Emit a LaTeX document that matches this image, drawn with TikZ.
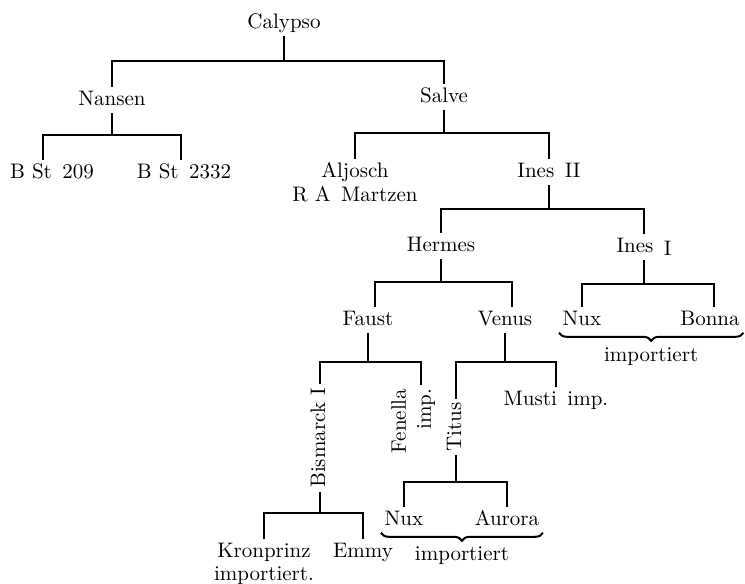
\documentclass[tikz,border=0pt]{standalone}
\usepackage{tikz}
\usetikzlibrary{positioning, decorations.pathreplacing}

\begin{document}
\begin{tikzpicture}[x=0.5pt, y=-0.5pt, line width=0.8pt,
    every node/.style={font=\fontsize{10.5}{12.5}\selectfont, inner sep=1.5pt},
    horse/.style={text height=7pt, text depth=2pt},
    upright/.style={horse, rotate=90},
    importbrace/.style={decorate, decoration={brace, mirror, amplitude=4pt}, line width=1pt}]
  \useasboundingbox (0,0) rectangle (745,584);

  % TOP: Calypso
  \node[horse] (calypso) at (284,23) {Calypso};
  \node[horse] (nansen) at (112,100) {Nansen};
  \node[horse] (salve) at (444,97) {Salve};
  \coordinate (calypsobar) at (284,61);
  \draw (calypso.south) -- (calypsobar);
  \draw (nansen.north) |- (calypsobar) -| (salve.north);

  % LEFT: Nansen
  \node[horse] (bst209) at (52,173) {B St\enspace 209};
  \node[horse] (bst2332) at (184,173) {B St\enspace 2332};
  \coordinate (nansenbar) at (112,135);
  \draw (nansen.south) -- (nansenbar);
  \draw ([xshift=-4.5pt]bst209.north) |- (nansenbar) -| ([xshift=-1.5pt]bst2332.north);

  % RIGHT: Salve
  \node[horse] (aljosch) at (355,172) {Aljosch};
  \node[horse, below=-0.5pt of aljosch] (martzen) {R A\enspace Martzen};
  \node[horse] (ines2) at (549,172) {Ines\enspace II};
  \coordinate (salvebar) at (444,133);
  \draw (salve.south) -- (salvebar);
  \draw (aljosch.north) |- (salvebar) -| (ines2.north);

  % Ines II
  \node[horse] (hermes) at (441,246) {Hermes};
  \node[horse] (ines1) at (644,247) {Ines\enspace\raisebox{-1.5pt}{I}};
  \coordinate (ines2bar) at (549,209);
  \draw (ines2.south) -- (ines2bar);
  \draw (hermes.north) |- (ines2bar) -| (ines1.north);

  % Hermes
  \node[horse] (faust) at (368,320) {Faust};
  \node[horse] (venus) at (505,320) {Venus};
  \coordinate (hermesbar) at (441,282);
  \draw (hermes.south) -- (hermesbar);
  \draw ([xshift=3.5pt]faust.north) |- (hermesbar) -| ([xshift=3.5pt]venus.north);

  % Ines I
  \node[horse] (nux1) at (582,320) {Nux};
  \node[horse] (bonna) at (710,320) {Bonna};
  \coordinate (ines1bar) at (644,284);
  \draw (ines1.south) -- (ines1bar);
  \draw (nux1.north) |- (ines1bar) -| ([xshift=2pt]bonna.north);
  \draw[importbrace] (nux1.south west) -- (bonna.south east)
    node[horse, midway, below=5.5pt] (imp1) {importiert};

  % Faust
  \node[upright] (bismarck) at (320,438) {Bismarck I};
  \node[rotate=90, align=right] (fenella) at (413,421) {Fenella\\imp.};
  \coordinate (faustbar) at (368,362);
  \draw (faust.south) -- (faustbar);
  \draw (bismarck.east) |- (faustbar) -| ([xshift=4pt]fenella.east);

  % Venus
  \node[upright] (titus) at (456,427) {Titus};
  \node[horse] (musti) at (556,400) {Musti\enspace imp.};
  \coordinate (venusbar) at (505,362);
  \draw (venus.south) -- (venusbar);
  \draw (titus.east) |- (venusbar) -| (musti.north);

  % Bismarck I
  \node[horse] (kronprinz) at (264,552) {Kronprinz};
  \node[horse, below=-1pt of kronprinz] (kronimp) {importiert.};
  \node[horse] (emmy) at (363,552) {Emmy};
  \coordinate (bismarckbar) at (320,513);
  \draw (bismarck.west) -- (bismarckbar);
  \draw (kronprinz.north) |- (bismarckbar) -| (emmy.north);

  % Titus
  \node[horse] (nux2) at (404,520) {Nux};
  \node[horse] (aurora) at (507,520) {Aurora};
  \coordinate (titusbar) at (456,482);
  \draw (titus.west) -- (titusbar);
  \draw (nux2.north) |- (titusbar) -| (aurora.north);
  \draw[importbrace] (nux2.south west) -- (aurora.south east)
    node[horse, midway, below=5pt] (imp2) {importiert};
\end{tikzpicture}
\end{document}
